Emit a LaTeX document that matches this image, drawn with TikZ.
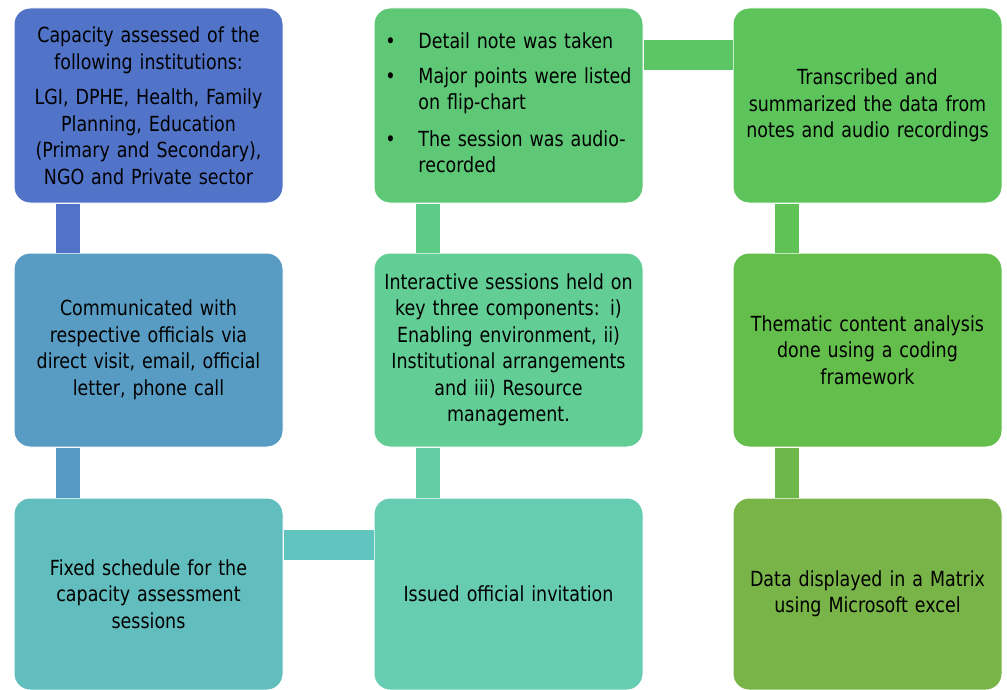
\documentclass[tikz,border=0pt]{standalone}
\usepackage{fontspec}
\setmainfont{DejaVu Sans}[FakeStretch=0.84]
\begin{document}
\begin{tikzpicture}[x=1pt,y=-1pt,
  box/.style={rectangle, rounded corners=16pt, draw=white, line width=1pt,
    minimum width=269pt, minimum height=#1, inner sep=0pt, text width=262pt,
    align=center, font=\fontsize{20.8}{26.5}\selectfont, text=black},
  box/.default=195pt,
  vlink/.style={line width=24pt},
  hlink/.style={line width=30pt}]
\definecolor{bA}{RGB}{82,116,200}
\definecolor{bB}{RGB}{88,156,196}
\definecolor{bC}{RGB}{98,189,190}
\definecolor{gC}{RGB}{102,205,178}
\definecolor{gB}{RGB}{98,206,150}
\definecolor{gA}{RGB}{94,200,118}
\definecolor{kA}{RGB}{92,196,90}
\definecolor{kB}{RGB}{100,190,76}
\definecolor{kC}{RGB}{120,180,72}
\definecolor{lAB}{RGB}{82,114,200}
\definecolor{lBC}{RGB}{86,154,196}
\definecolor{lCC}{RGB}{98,196,190}
\definecolor{lGCB}{RGB}{100,205,165}
\definecolor{lGBA}{RGB}{94,202,135}
\definecolor{lGK}{RGB}{92,197,100}
\definecolor{lKAB}{RGB}{94,194,84}
\definecolor{lKBC}{RGB}{110,184,74}

\useasboundingbox (0,0) rectangle (1007,690);
\fill[white] (0,0) rectangle (1007,690);

% left column
\node[box, fill=bA] (a1) at (148.5,105.5) {Capacity assessed of the\\ following institutions:\\[9pt]
  LGI, DPHE, Health, Family\\ Planning, Education\\ (Primary and Secondary),\\ NGO and Private sector};
\node[box=194pt, fill=bB] (a2) at (148.5,350) {Communicated with\\ respective officials via\\ direct visit, email, official\\ letter, phone call};
\node[box=192pt, fill=bC] (a3) at (148.5,594) {Fixed schedule for the\\ capacity assessment\\ sessions};

% middle column
\node[box, fill=gA] (b1) at (508.5,105.5) {\raisebox{-2pt}{\begin{tabular}{@{}p{33pt}@{}l@{}}
  • & Detail note was taken\\[8pt]
  • & Major points were listed\\
    & on flip-chart\\[10pt]
  • & The session was audio-\\
    & recorded
  \end{tabular}}};
\node[box=194pt, fill=gB] (b2) at (508.5,350) {Interactive sessions held on\\ key three components: i)\\ Enabling environment, ii)\\ Institutional arrangements\\ and iii) Resource\\ management.};
\node[box=192pt, fill=gC] (b3) at (508.5,594) {Issued official invitation};

% right column
\node[box, fill=kA] (c1) at (867.5,105.5) {Transcribed and\\ summarized the data from\\ notes and audio recordings};
\node[box=194pt, fill=kB] (c2) at (867.5,350) {Thematic content analysis\\ done using a coding\\ framework};
\node[box=192pt, fill=kC] (c3) at (867.5,594) {Data displayed in a Matrix\\ using Microsoft excel};

% links
\draw[vlink, lAB] ([xshift=-80.5pt]a1.south) -- ([xshift=-80.5pt]a2.north);
\draw[vlink, lBC] ([xshift=-80.5pt]a2.south) -- ([xshift=-80.5pt]a3.north);
\draw[hlink, lCC] ([yshift=49pt]a3.east) -- ([yshift=49pt]b3.west);
\draw[vlink, lGCB] ([xshift=-80.5pt]b3.north) -- ([xshift=-80.5pt]b2.south);
\draw[vlink, lGBA] ([xshift=-80.5pt]b2.north) -- ([xshift=-80.5pt]b1.south);
\draw[hlink, lGK] ([yshift=50.5pt]b1.east) -- ([yshift=50.5pt]c1.west);
\draw[vlink, lKAB] ([xshift=-80.5pt]c1.south) -- ([xshift=-80.5pt]c2.north);
\draw[vlink, lKBC] ([xshift=-80.5pt]c2.south) -- ([xshift=-80.5pt]c3.north);
\end{tikzpicture}
\end{document}
